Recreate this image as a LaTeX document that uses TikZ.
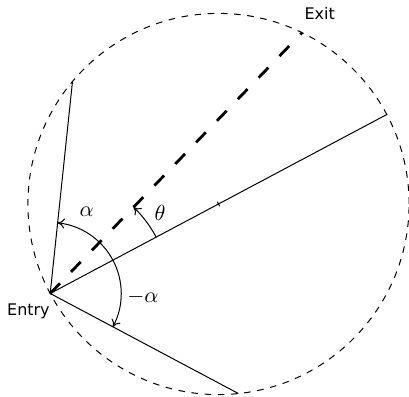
\documentclass[tikz,border=0pt]{standalone}
\usepackage{fontspec}
\newfontfamily\labelfont{DejaVu Sans}
\usetikzlibrary{arrows.meta}
\begin{document}
\begin{tikzpicture}[x=0.5pt, y=0.5pt, line width=0.5pt,
    every node/.style={font=\fontsize{11}{13}\selectfont},
    boundary/.style={dash pattern=on 3.3pt off 3.3pt},
    chordpath/.style={line width=1.4pt, dash pattern=on 7pt off 8pt},
    anglearc/.style={-{To[length=3.5pt,width=5pt]}},
    tag/.style={font=\labelfont\fontsize{8}{9.5}\selectfont, inner sep=0pt}]
  \useasboundingbox (0,0) rectangle (409,397);
  \coordinate (O) at (218.5,193);
  \path (O) ++(208:190.6) coordinate (E);
  \path (O) ++(28:190.6) coordinate (D);
  \path (O) ++(64:190.6) coordinate (X);
  \path (O) ++(140:190.6) coordinate (A);
  \path (O) ++(-84:190.6) coordinate (B);
  \draw[boundary] (O) circle (190.6);
  \draw (E) -- (D);
  \draw (E) -- (A);
  \draw (E) -- (B);
  \draw[chordpath] (E) -- (X);
  \draw ([shift={(118:2.5)}]O) -- ([shift={(-62:2.5)}]O);
  \draw[anglearc] (E) ++(28:71) arc[start angle=28, end angle=84, radius=71];
  \draw[anglearc] (E) ++(28:71) arc[start angle=28, end angle=-28, radius=71];
  \draw[anglearc] (E) ++(28:120) arc[start angle=28, end angle=46, radius=120];
  \node (alpha) at (86.7,185.3) {$\alpha$};
  \node (malpha) at (143,100.3) {$-\alpha$};
  \node (theta) at (160,184) {$\theta$};
  \node[tag, anchor=north east] (entry) at ([yshift=-5pt]E) {Entry};
  \node[tag, anchor=base west] (exit) at ([xshift=1pt,yshift=6.5pt]X) {Exit};
\end{tikzpicture}
\end{document}
